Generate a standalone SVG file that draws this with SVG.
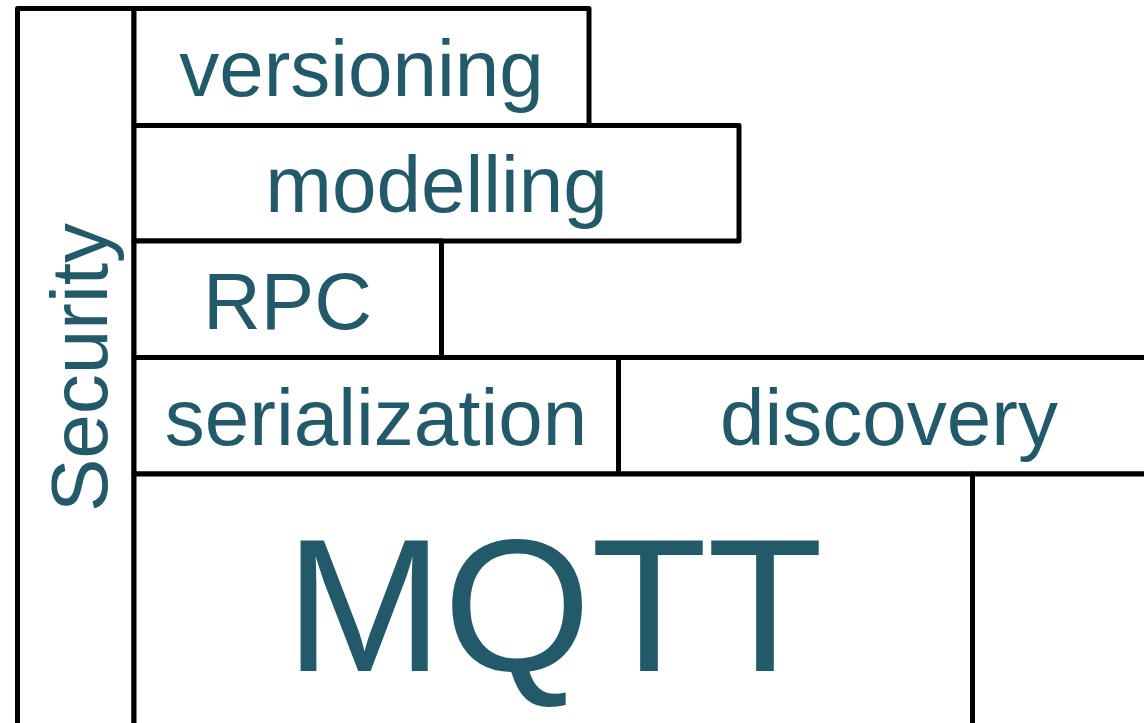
<svg xmlns="http://www.w3.org/2000/svg" width="1144" height="723" viewBox="0 0 1144 723">
  <style>
    .box { fill: #ffffff; stroke: #000000; stroke-width: 5; stroke-linejoin: round; }
    .lbl { font-family: "Liberation Sans", Arial, sans-serif; font-size: 80px; fill: #225a69; text-anchor: middle; }
    .big { font-size: 190px; }
  </style>
  <rect width="1144" height="723" fill="#ffffff"/>

  <!-- security column along the left side -->
  <g id="security">
    <rect class="box" x="17.5" y="8.5" width="116.5" height="740"/>
    <text class="lbl" transform="translate(107 367.5) rotate(-90)">Security</text>
  </g>

  <g id="versioning">
    <rect class="box" x="134" y="8.5" width="455" height="117"/>
    <text class="lbl" x="361.5" y="96">versioning</text>
  </g>

  <g id="modelling">
    <rect class="box" x="134" y="125.5" width="605" height="115.5"/>
    <text class="lbl" x="436.5" y="212">modelling</text>
  </g>

  <g id="rpc">
    <rect class="box" x="134" y="241" width="307.5" height="116.5"/>
    <text class="lbl" x="287.5" y="329">RPC</text>
  </g>

  <g id="serialization">
    <rect class="box" x="134" y="357.5" width="484.5" height="116.5"/>
    <text class="lbl" x="376" y="445">serialization</text>
  </g>

  <g id="discovery">
    <rect class="box" x="618.5" y="357.5" width="541" height="116.5"/>
    <text class="lbl" x="889" y="445">discovery</text>
  </g>

  <g id="mqtt">
    <rect class="box" x="134" y="474" width="838.5" height="280"/>
    <text class="lbl big" x="554" y="671">MQTT</text>
  </g>

  <g id="transport-side">
    <rect class="box" x="972.5" y="474" width="200" height="280"/>
  </g>

  <g id="connectors"></g>
</svg>
